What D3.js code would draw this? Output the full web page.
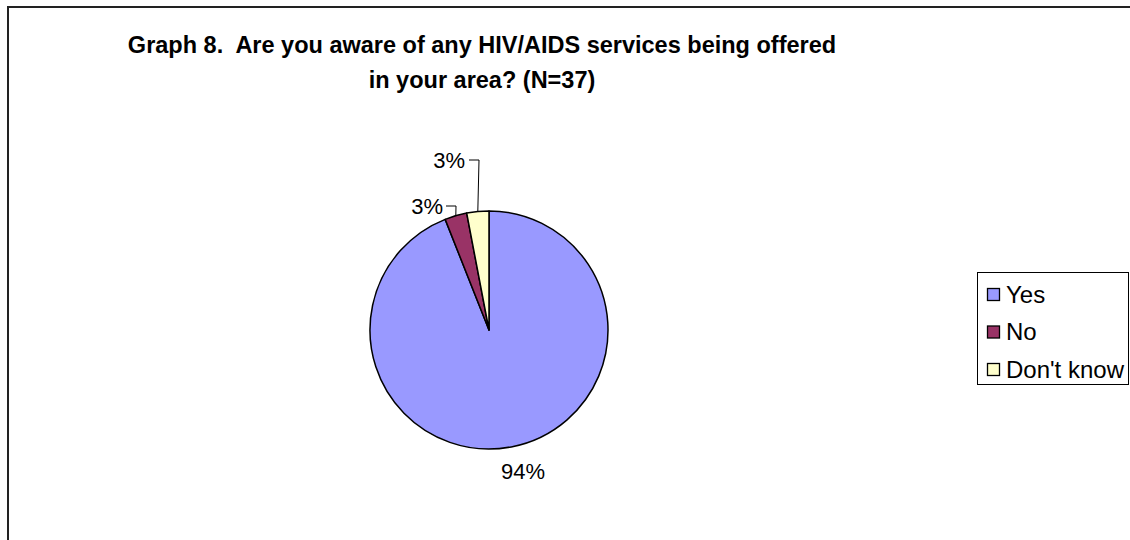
<!DOCTYPE html>
<html>
<head>
<meta charset="utf-8">
<script src="https://cdn.jsdelivr.net/npm/d3@7"></script>
<style>
  html, body { margin: 0; padding: 0; background: #fff; }
  svg { display: block; font-family: Arial, "Liberation Sans", sans-serif; }
  .title { white-space: pre; }
</style>
</head>
<body>
<svg id="chart" width="1130" height="540"></svg>
<script>
// Survey responses (percent of N=37)
const categories = ["Yes", "No", "Don't know"];
const values = [94, 3, 3];
const colors = ["#9999FF", "#993366", "#FFFFCC"];
const titleLines = ["Graph 8.  Are you aware of any HIV/AIDS services being offered", "in your area? (N=37)"];

const svg = d3.select("#chart");

// outer chart frame (runs off the right and bottom edges)
svg.append("rect")
  .attr("x", 8).attr("y", 7)
  .attr("width", 1200).attr("height", 600)
  .attr("fill", "#fff")
  .attr("stroke", "#222").attr("stroke-width", 2);

// title
svg.append("g").selectAll("text")
  .data(titleLines)
  .join("text")
  .attr("class", "title")
  .attr("x", 482)
  .attr("y", (d, i) => 53 + i * 35)
  .attr("text-anchor", "middle")
  .attr("font-size", 23.5)
  .attr("font-weight", "bold")
  .attr("fill", "#000")
  .text(d => d);

// pie
const cx = 489, cy = 330, r = 119;
const pie = d3.pie().sort(null).value(d => d)(values);
const arc = d3.arc().innerRadius(0).outerRadius(r);

const g = svg.append("g").attr("transform", `translate(${cx},${cy})`);
g.selectAll("path")
  .data(pie)
  .join("path")
  .attr("d", arc)
  .attr("fill", (d, i) => colors[i])
  .attr("stroke", "#000")
  .attr("stroke-width", 1.5)
  .attr("stroke-linejoin", "round");

// data labels: first one sits below the pie, the two thin slices get leader lines
const fmt = d => d + "%";
const edge = d => {
  const a = (d.startAngle + d.endAngle) / 2;
  return [Math.sin(a) * r, -Math.cos(a) * r];
};
// label anchor (text end / baseline) relative to the pie centre
const labelPos = [
  { x: 34, y: 149, anchor: "middle", leader: false },
  { x: -46, y: -116, anchor: "end", leader: true, gap: 3, run: 12 },
  { x: -24, y: -162, anchor: "end", leader: true, gap: 4, run: 12 }
];

const labels = g.append("g");
pie.forEach((d, i) => {
  const p = labelPos[i];
  labels.append("text")
    .attr("x", p.x).attr("y", p.y)
    .attr("text-anchor", p.anchor)
    .attr("font-size", 22)
    .attr("fill", "#000")
    .text(fmt(d.data));
  if (p.leader) {
    const [ex, ey] = edge(d);
    const ly = p.y - 8;
    const x0 = p.x + p.gap;
    const x1 = x0 + p.run;
    labels.append("path")
      .attr("d", d3.line()([[x0, ly], [x1 - 2, ly], [ex, ey]]))
      .attr("fill", "none")
      .attr("stroke", "#000")
      .attr("stroke-width", 1);
  }
});

// legend
const legend = svg.append("g");
legend.append("rect")
  .attr("x", 977.5).attr("y", 272.5)
  .attr("width", 151).attr("height", 112)
  .attr("fill", "#fff")
  .attr("stroke", "#000").attr("stroke-width", 1);

const item = legend.selectAll("g.item")
  .data(categories)
  .join("g")
  .attr("class", "item")
  .attr("transform", (d, i) => `translate(987, ${294 + i * 37.5})`);
item.append("rect")
  .attr("x", 0.5).attr("y", -5.5)
  .attr("width", 12).attr("height", 12)
  .attr("fill", (d, i) => colors[i])
  .attr("stroke", "#000").attr("stroke-width", 1.3);
item.append("text")
  .attr("x", 19).attr("y", 8.5)
  .attr("font-size", 24)
  .attr("fill", "#000")
  .text(d => d);
</script>
</body>
</html>
